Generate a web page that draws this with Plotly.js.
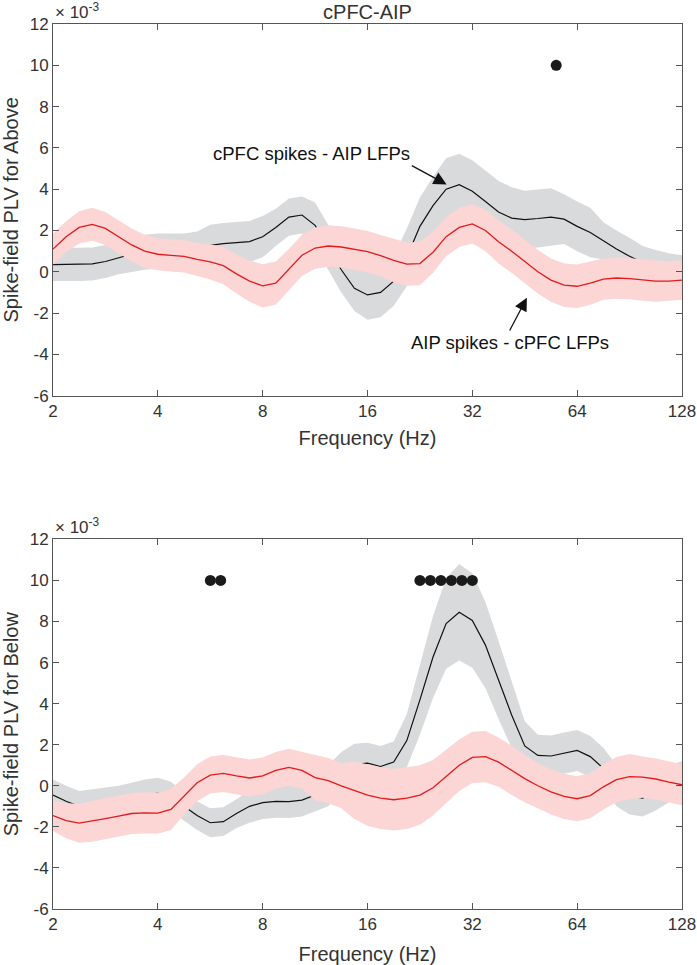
<!DOCTYPE html>
<html>
<head>
<meta charset="utf-8">
<script src="https://cdn.plot.ly/plotly-3.0.1.min.js"></script>
<style>html,body{margin:0;padding:0;background:#fff;}#chart{width:697px;height:965px;}</style>
</head>
<body>
<div id="chart"></div>
<script>
// Frequencies (Hz), 1/8-octave grid from 2 to 128
const freq = [2, 2.181, 2.378, 2.594, 2.828, 3.084, 3.364, 3.668, 4, 4.362, 4.757, 5.187, 5.657, 6.169, 6.727, 7.336, 8, 8.724, 9.514, 10.375, 11.314, 12.338, 13.454, 14.672, 16, 17.448, 19.027, 20.749, 22.627, 24.675, 26.909, 29.344, 32, 34.897, 38.055, 41.499, 45.255, 49.351, 53.817, 58.688, 64, 69.79, 76.11, 83.0, 90.51, 98.70, 107.63, 117.38, 128];

// Values in units of 1e-3
// Top panel ("Above")
const aboveCpfcSpikes = [0.35,0.35,0.35,0.38,0.5,0.68,0.85,0.95,1.0,1.0, 1.0,1.1,1.28,1.36,1.42,1.46,1.7,2.15,2.65,2.75, 2.25,1.2,0.1,-0.8,-1.12,-1.0,-0.45,0.7,2.2,3.2, 4.0,4.22,3.9,3.4,2.9,2.6,2.53,2.58,2.65,2.55, 2.2,1.9,1.5,1.1,0.75,0.45,0.25,0.1,0.0];
const aboveCpfcSem    = [0.8,0.8,0.8,0.8,0.8,0.8, 0.85,0.85,0.85,0.85,0.85,0.85, 1.0,1.0,1.0,1.0,1.0, 0.9,0.9,0.9, 1.1,1.1,1.1,1.1, 1.2,1.2,1.2, 1.4,1.4,1.4, 1.5,1.5,1.5,1.5,1.5,1.5, 1.4,1.4,1.4, 1.2,1.2,1.2, 0.9,0.9,0.9, 0.8,0.8,0.8,0.8];
const aboveAipSpikes  = [1.1,1.7,2.15,2.3,2.1,1.7,1.3,1.0,0.85,0.8, 0.75,0.6,0.48,0.3,-0.1,-0.45,-0.68,-0.55,0.1,0.8, 1.15,1.25,1.2,1.1,0.98,0.78,0.55,0.37,0.4,0.95, 1.7,2.15,2.32,2.0,1.45,1.0,0.5,0.0,-0.4,-0.65, -0.7,-0.55,-0.35,-0.3,-0.33,-0.4,-0.45,-0.45,-0.4];
const aboveAipSem     = [0.75,0.75,0.78,0.8,0.8,0.8,0.8,0.8,0.78,0.78, 0.78,0.8,0.85,0.9,0.95,1.0,1.05,1.05,1.0,1.0, 1.0,1.0,1.0,1.0,1.0,1.0,1.05,1.05,1.05,1.0, 0.95,0.95,0.95,1.0,1.05,1.05,1.05,1.05,1.05,1.05, 1.05,1.05,1.0,1.0,1.0,1.0,1.0,0.95,0.95];
const aboveSigFreq = [55.72];
const aboveSigVal  = [10];

// Bottom panel ("Below")
const belowCpfcSpikes = [-0.45,-0.75,-1.0,-0.92,-0.85,-0.75,-0.6,-0.45,-0.36,-0.5, -1.0,-1.45,-1.8,-1.75,-1.35,-1.0,-0.82,-0.76,-0.77,-0.7, -0.45,0.0,0.65,1.05,1.1,0.94,1.16,2.2,4.18,6.27, 7.9,8.45,8.05,6.85,5.15,3.45,1.94,1.48,1.45,1.6, 1.72,1.42,0.85,0.0,-0.5,-0.6,-0.3,0.1,0.3];
const belowCpfcSem    = [0.75,0.75,0.75,0.75,0.75,0.75,0.75,0.75,0.75, 0.7,0.7,0.7,0.7,0.7,0.7, 0.8,0.8,0.8,0.8,0.8,0.8, 1.0,1.0,1.0,1.0,1.0,1.0, 1.3,1.7,2.0,2.2,2.35,2.3,2.1,1.9,1.6,1.2, 1.0,1.0,1.0,1.0,1.0,1.0,1.0, 0.9,0.9,0.9,0.9,0.9];
const belowAipSpikes  = [-1.45,-1.7,-1.82,-1.72,-1.6,-1.48,-1.35,-1.32,-1.33,-1.15, -0.5,0.15,0.52,0.6,0.48,0.38,0.48,0.75,0.9,0.75, 0.4,0.25,0.0,-0.22,-0.45,-0.6,-0.68,-0.6,-0.45,-0.1, 0.45,1.0,1.38,1.42,1.15,0.75,0.35,0.0,-0.3,-0.52, -0.63,-0.48,-0.05,0.3,0.45,0.42,0.33,0.18,0.05];
const belowAipSem     = [0.75,0.85,0.95,1.0,1.0,1.0,1.0,1.0,1.0,1.0, 0.9,0.9,0.9,0.9,0.9,0.9,0.9,0.9,0.9,0.9, 1.1,1.1,1.1,1.4,1.5,1.5,1.5,1.5,1.45,1.35, 1.3,1.25,1.25,1.25,1.2,1.2,1.15,1.1,1.1,1.1, 1.1,1.1,1.1,1.1,1.1,1.0,1.0,1.0,1.0];
const belowSigFreq = [5.66, 6.06, 22.63, 24.25, 25.99, 27.86, 29.86, 32.0];
const belowSigVal  = [10, 10, 10, 10, 10, 10, 10, 10];

const xTicks = [2, 4, 8, 16, 32, 64, 128];
const xTickText = ['2', '4', '8', '16', '32', '64', '128'];
const yTicks = [-6, -4, -2, 0, 2, 4, 6, 8, 10, 12];
const yTickText = ['-6', '-4', '-2', '0', '2', '4', '6', '8', '10', '12'];

const GRAY = '#d9dadb', PINK = '#fcd5d5', RED = '#e41a1c', BLACK = '#111111';
const FONT = 'Liberation Sans, Arial, Helvetica, sans-serif';
const TXT = '#333333', AX = '#555555';

function band(mean, sem, color, xa, ya) {
  const up = mean.map((m, i) => m + sem[i]);
  const lo = mean.map((m, i) => m - sem[i]);
  return {
    x: freq.concat(freq.slice().reverse()),
    y: up.concat(lo.slice().reverse()),
    type: 'scatter', mode: 'lines', fill: 'toself', fillcolor: color,
    line: {width: 0, color: color}, hoverinfo: 'skip', xaxis: xa, yaxis: ya
  };
}
function line(mean, color, w, xa, ya) {
  return {x: freq, y: mean, type: 'scatter', mode: 'lines',
          line: {color: color, width: w}, xaxis: xa, yaxis: ya};
}
function dots(fx, fy, xa, ya) {
  return {x: fx, y: fy, type: 'scatter', mode: 'markers',
          marker: {color: '#1a1a1a', size: 11}, xaxis: xa, yaxis: ya};
}

const data = [
  band(aboveCpfcSpikes, aboveCpfcSem, GRAY, 'x', 'y'),
  line(aboveCpfcSpikes, BLACK, 1.2, 'x', 'y'),
  band(aboveAipSpikes, aboveAipSem, PINK, 'x', 'y'),
  line(aboveAipSpikes, RED, 1.3, 'x', 'y'),
  dots(aboveSigFreq, aboveSigVal, 'x', 'y'),
  band(belowCpfcSpikes, belowCpfcSem, GRAY, 'x2', 'y2'),
  line(belowCpfcSpikes, BLACK, 1.2, 'x2', 'y2'),
  band(belowAipSpikes, belowAipSem, PINK, 'x2', 'y2'),
  line(belowAipSpikes, RED, 1.3, 'x2', 'y2'),
  dots(belowSigFreq, belowSigVal, 'x2', 'y2')
];

function xAxis(anchor, standoff) {
  return {
    type: 'log', range: [Math.log10(2), Math.log10(128)], anchor: anchor,
    tickvals: xTicks, ticktext: xTickText, ticks: 'inside', ticklen: 6,
    tickcolor: AX, mirror: 'ticks', showline: true, linecolor: AX, linewidth: 1,
    showgrid: false, zeroline: false,
    tickfont: {family: FONT, size: 17, color: TXT},
    title: {text: 'Frequency (Hz)', font: {family: FONT, size: 20, color: TXT}, standoff: standoff}
  };
}
function yAxis(anchor, dom, label) {
  return {
    range: [-6, 12], domain: dom, anchor: anchor,
    tickvals: yTicks, ticktext: yTickText, ticks: 'inside', ticklen: 6,
    tickcolor: AX, mirror: 'ticks', showline: true, linecolor: AX, linewidth: 1,
    showgrid: false, zeroline: false,
    tickfont: {family: FONT, size: 17, color: TXT},
    title: {text: label, font: {family: FONT, size: 20, color: TXT}, standoff: 6}
  };
}

const L = Math.log10;
const layout = {
  width: 697, height: 965,
  margin: {l: 53, r: 15, t: 24, b: 56},
  paper_bgcolor: '#fff', plot_bgcolor: '#fff',
  showlegend: false,
  font: {family: FONT, color: TXT},
  title: {text: 'cPFC-AIP', font: {family: FONT, size: 20, color: TXT},
          x: 0.5, xref: 'paper', y: 1 - 12 / 965, yref: 'container', yanchor: 'middle'},
  xaxis: xAxis('y', 10),
  yaxis: yAxis('x', [0.58, 1], 'Spike-field PLV for Above'),
  xaxis2: xAxis('y2', 14),
  yaxis2: yAxis('x2', [0, 0.4177], 'Spike-field PLV for Below'),
  annotations: [
    {text: '× 10<sup>-3</sup>', xref: 'x domain', yref: 'y domain', x: 0, y: 1,
     xanchor: 'left', yanchor: 'bottom', showarrow: false,
     font: {family: FONT, size: 17, color: TXT}},
    {text: '× 10<sup>-3</sup>', xref: 'x2 domain', yref: 'y2 domain', x: 0, y: 1,
     xanchor: 'left', yanchor: 'bottom', showarrow: false,
     font: {family: FONT, size: 17, color: TXT}},
    {text: 'cPFC spikes - AIP LFPs', xref: 'x', yref: 'y', axref: 'x', ayref: 'y',
     x: L(27.0), y: 4.23, ax: L(21.45), ay: 5.14,
     xanchor: 'right', yanchor: 'bottom',
     showarrow: true, arrowhead: 2, arrowsize: 2, arrowwidth: 1.3, arrowcolor: '#111',
     font: {family: FONT, size: 18.5, color: '#111'}},
    {text: 'AIP spikes - cPFC LFPs', xref: 'x', yref: 'y', axref: 'x', ayref: 'y',
     x: L(45.9), y: -1.26, ax: L(40.96), ay: -2.84,
     xanchor: 'center', yanchor: 'top',
     showarrow: true, arrowhead: 2, arrowsize: 2, arrowwidth: 1.3, arrowcolor: '#111',
     font: {family: FONT, size: 18.5, color: '#111'}}
  ]
};

Plotly.newPlot('chart', data, layout, {staticPlot: true, displayModeBar: false});
</script>
</body>
</html>
